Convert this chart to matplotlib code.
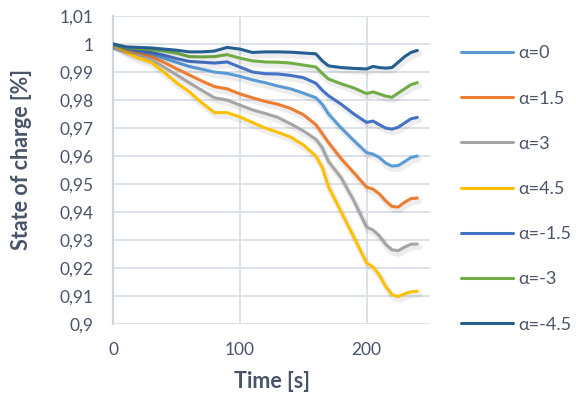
import matplotlib
matplotlib.use("Agg")
import matplotlib.pyplot as plt
import matplotlib.patheffects as pe
from matplotlib.ticker import FuncFormatter, MultipleLocator

# Time axis (s) and state of charge for each alpha
time_s = [0, 10, 20, 30, 40, 50, 60, 70, 80, 90, 100, 110, 120, 130, 140, 150,
          160, 165, 170, 180, 190, 200, 205, 210, 215, 220, 225, 230, 235, 240]

soc_a0 = [1.000, 0.9982, 0.9972, 0.9962, 0.9950, 0.9935, 0.9920, 0.9910, 0.9900,
          0.9895, 0.9885, 0.9872, 0.9862, 0.9850, 0.9840, 0.9825, 0.9808, 0.9785,
          0.9750, 0.9700, 0.9655, 0.9612, 0.9607, 0.9595, 0.9575, 0.9564, 0.9566,
          0.9580, 0.9595, 0.9600]
soc_a15 = [1.000, 0.9980, 0.9965, 0.9955, 0.9935, 0.9912, 0.9890, 0.9868, 0.9848,
           0.9840, 0.9822, 0.9808, 0.9795, 0.9785, 0.9770, 0.9748, 0.9712, 0.9680,
           0.9648, 0.9590, 0.9540, 0.9489, 0.9482, 0.9465, 0.9440, 0.9420, 0.9418,
           0.9435, 0.9448, 0.9450]
soc_a3 = [1.000, 0.9978, 0.9960, 0.9945, 0.9918, 0.9890, 0.9862, 0.9835, 0.9808,
          0.9800, 0.9782, 0.9765, 0.9752, 0.9738, 0.9715, 0.9690, 0.9660, 0.9630,
          0.9580, 0.9522, 0.9440, 0.9346, 0.9336, 0.9315, 0.9285, 0.9265, 0.9262,
          0.9275, 0.9285, 0.9286]
soc_a45 = [1.000, 0.9972, 0.9950, 0.9935, 0.9900, 0.9862, 0.9830, 0.9790, 0.9755,
           0.9755, 0.9740, 0.9720, 0.9700, 0.9685, 0.9668, 0.9640, 0.9600, 0.9560,
           0.9490, 0.9400, 0.9310, 0.9218, 0.9204, 0.9175, 0.9135, 0.9105, 0.9098,
           0.9108, 0.9115, 0.9117]
soc_m15 = [1.000, 0.9985, 0.9978, 0.9970, 0.9960, 0.9948, 0.9938, 0.9935, 0.9932,
           0.9936, 0.9918, 0.9900, 0.9894, 0.9893, 0.9888, 0.9880, 0.9860, 0.9835,
           0.9815, 0.9785, 0.9750, 0.9720, 0.9725, 0.9712, 0.9700, 0.9696, 0.9703,
           0.9718, 0.9733, 0.9738]
soc_m3 = [1.000, 0.9988, 0.9984, 0.9980, 0.9975, 0.9968, 0.9955, 0.9954, 0.9955,
          0.9962, 0.9950, 0.9940, 0.9936, 0.9935, 0.9932, 0.9925, 0.9918, 0.9895,
          0.9875, 0.9858, 0.9843, 0.9823, 0.9829, 0.9822, 0.9814, 0.9810, 0.9825,
          0.9840, 0.9855, 0.9862]
soc_m45 = [1.000, 0.9990, 0.9988, 0.9986, 0.9982, 0.9978, 0.9972, 0.9972, 0.9975,
           0.9988, 0.9982, 0.9970, 0.9972, 0.9972, 0.9971, 0.9968, 0.9965, 0.9940,
           0.9922, 0.9916, 0.9913, 0.9911, 0.9920, 0.9916, 0.9914, 0.9916, 0.9935,
           0.9955, 0.9970, 0.9977]

series = [
    ("α=0", soc_a0, "#5B9BD5"),
    ("α=1.5", soc_a15, "#ED7D31"),
    ("α=3", soc_a3, "#A5A5A5"),
    ("α=4.5", soc_a45, "#FFC000"),
    ("α=-1.5", soc_m15, "#4472C4"),
    ("α=-3", soc_m3, "#70AD47"),
    ("α=-4.5", soc_m45, "#255E91"),
]

text_col = "#4a5468"
plt.rcParams["font.family"] = ["Lato", "DejaVu Sans"]

fig = plt.figure(figsize=(5.76, 3.95), dpi=100)
ax = fig.add_axes([0.1962, 0.1797, 0.5503, 0.7797])

# soft drop shadow under each line
shadow = [pe.SimpleLineShadow(offset=(1.2, -2.2), shadow_color="#000000", alpha=0.07,
                              linewidth=4.5),
          pe.Normal()]

for label, vals, col in series:
    ax.plot(time_s, vals, color=col, lw=2.2, label=label, path_effects=shadow,
            solid_capstyle="round", solid_joinstyle="round", zorder=3)

ax.set_xlim(0, 250)
ax.set_ylim(0.9, 1.01)
ax.xaxis.set_major_locator(MultipleLocator(100))
ax.yaxis.set_major_locator(MultipleLocator(0.01))


def comma_fmt(v, pos):
    s = f"{v:.2f}".rstrip("0").rstrip(".")
    return s.replace(".", ",")


ax.yaxis.set_major_formatter(FuncFormatter(comma_fmt))
ax.grid(True, color="#dde1e8", lw=1.4, zorder=0)
for side in ["top", "right", "bottom"]:
    ax.spines[side].set_visible(False)
ax.spines["left"].set_color("#cfd4dd")
ax.spines["left"].set_linewidth(1.6)
ax.tick_params(length=0, labelsize=12.5, labelcolor=text_col)
ax.tick_params(axis="y", pad=14)
ax.tick_params(axis="x", pad=13)

fig.text(272 / 576, 1 - 382 / 395, "Time [s]", ha="center", va="center",
         fontsize=15.5, fontweight="bold", color=text_col)
fig.text(22 / 576, 1 - 160 / 395, "State of charge [%]", ha="center", va="center",
         rotation=90, fontsize=15.5, fontweight="bold", color=text_col)

leg = ax.legend(loc="center left", bbox_to_anchor=(0.800, 1 - 189 / 395),
                bbox_transform=fig.transFigure, frameon=False, fontsize=13,
                labelspacing=1.62, handlelength=2.9, handletextpad=0.3,
                borderpad=0, borderaxespad=0)
for txt in leg.get_texts():
    txt.set_color(text_col)
for h in leg.get_lines():
    h.set_path_effects([])

fig.savefig("out.png", dpi=100)
